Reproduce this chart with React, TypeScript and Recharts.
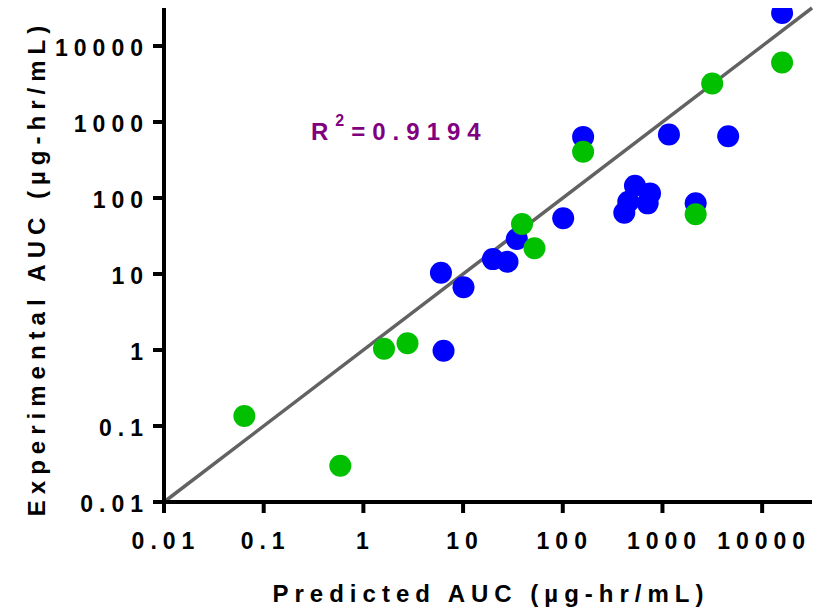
import React from 'react';
import {
  ScatterChart,
  Scatter,
  XAxis,
  YAxis,
  ReferenceLine
} from 'recharts';

// Predicted vs experimental AUC (µg-hr/mL)
const bluePredicted = [15850, 160, 1162, 4563, 530, 750, 454, 711, 414, 2153, 101, 34.6, 19.9, 27.9, 6.0, 10.1, 6.37];
const blueExperimental = [27100, 637, 685, 650, 145, 115, 89, 85, 64, 85, 54, 28.8, 15.7, 14.5, 10.4, 6.7, 0.98];

const greenPredicted = [15850, 3155, 160, 2153, 39, 52, 1.61, 2.77, 0.587, 0.064];
const greenExperimental = [6050, 3206, 405, 61, 45.4, 21.8, 1.04, 1.23, 0.03, 0.135];

const axisTicks = [0.01, 0.1, 1, 10, 100, 1000, 10000];
const axisMin = 0.01;
const axisMax = 31623;

const rSquaredLabel = '0.9194';
const xTitle = 'Predicted AUC (µg-hr/mL)';
const yTitle = 'Experimental AUC (µg-hr/mL)';

const blueData = bluePredicted.map((x, i) => ({ x, y: blueExperimental[i] }));
const greenData = greenPredicted.map((x, i) => ({ x, y: greenExperimental[i] }));

const FONT = '"Liberation Sans", Arial, sans-serif';

const tickStyle: React.CSSProperties = {
  fontFamily: FONT,
  fontWeight: 700,
  fontSize: 23,
  letterSpacing: 6,
  fill: '#000'
};

const XTick = (props: any) => {
  const { x, y, payload } = props;
  return (
    <text x={x + 2} y={y + 34} textAnchor="middle" style={tickStyle}>
      {String(payload.value)}
    </text>
  );
};

const YTick = (props: any) => {
  const { x, y, payload } = props;
  return (
    <text x={x - 2} y={y + 10} textAnchor="end" style={tickStyle}>
      {String(payload.value)}
    </text>
  );
};

const Dot = (color: string) => (props: any) => (
  <circle cx={props.cx} cy={props.cy} r={11} fill={color} />
);

const App: React.FC = () => {
  const axisLine = { stroke: '#000', strokeWidth: 4 };

  return (
    <div style={{ position: 'absolute', left: 0, top: 0, width: 813, height: 609, background: '#fff' }}>
      <ScatterChart
        width={813}
        height={609}
        margin={{ top: 8, right: 1, left: 0, bottom: 0 }}
      >
        <XAxis
          type="number"
          dataKey="x"
          scale="log"
          domain={[axisMin, axisMax]}
          ticks={axisTicks}
          interval={0}
          allowDataOverflow
          height={107}
          tickSize={11}
          axisLine={axisLine}
          tickLine={axisLine}
          tick={<XTick />}
        />
        <YAxis
          type="number"
          dataKey="y"
          scale="log"
          domain={[axisMin, axisMax]}
          ticks={axisTicks}
          interval={0}
          allowDataOverflow
          width={164}
          tickSize={11}
          axisLine={axisLine}
          tickLine={axisLine}
          tick={<YTick />}
        />
        <ReferenceLine
          segment={[{ x: axisMin, y: axisMin }, { x: axisMax, y: axisMax }]}
          stroke="#626262"
          strokeWidth={3.5}
          ifOverflow="visible"
        />
        <Scatter data={blueData} fill="#0000ff" shape={Dot('#0000ff')} isAnimationActive={false} />
        <Scatter data={greenData} fill="#00c000" shape={Dot('#00c000')} isAnimationActive={false} />
      </ScatterChart>

      <svg
        width={813}
        height={609}
        style={{ position: 'absolute', left: 0, top: 0, pointerEvents: 'none' }}
      >
        <text
          x={311}
          y={140}
          style={{ fontFamily: FONT, fontWeight: 700, fontSize: 24, letterSpacing: 7, fill: '#800080' }}
        >
          R
          <tspan dy={-14} style={{ fontSize: 16 }}>2</tspan>
          <tspan dy={14}>={rSquaredLabel}</tspan>
        </text>
        <text
          x={491}
          y={602}
          textAnchor="middle"
          style={{ fontFamily: FONT, fontWeight: 700, fontSize: 24, letterSpacing: 6, fill: '#000' }}
        >
          {xTitle}
        </text>
        <text
          x={45}
          y={268}
          textAnchor="middle"
          transform="rotate(-90 45 268)"
          style={{ fontFamily: FONT, fontWeight: 700, fontSize: 24, letterSpacing: 6, fill: '#000' }}
        >
          {yTitle}
        </text>
      </svg>
    </div>
  );
};

export default App;
